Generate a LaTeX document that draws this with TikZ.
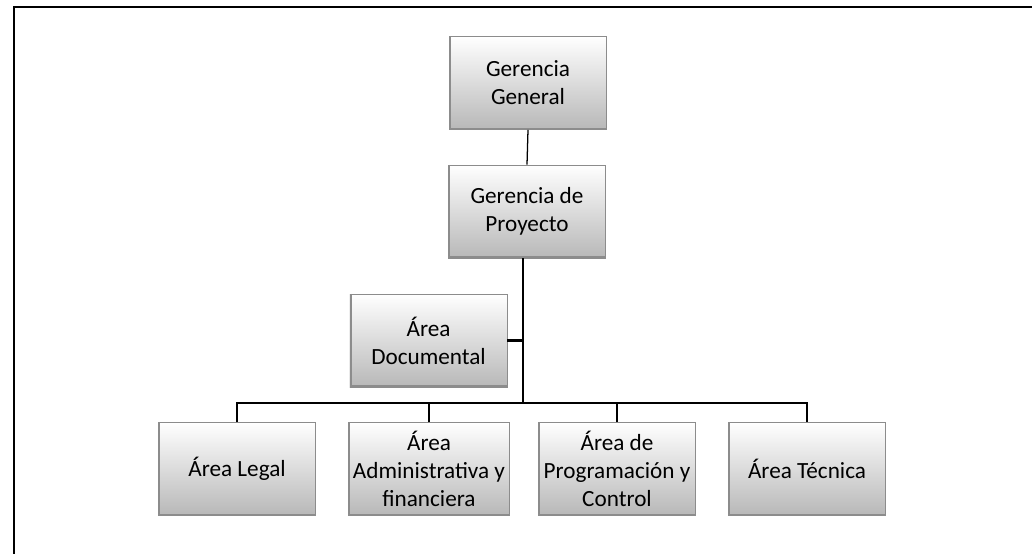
\documentclass[tikz,border=0pt]{standalone}
\usepackage{fontspec}
\setmainfont{Carlito}
\tikzset{
  unit/.style={rectangle, draw=black!45, line width=0.4pt,
    top color=white, bottom color=black!28,
    minimum width=3.93cm, minimum height=2.33cm, align=center,
    font=\fontsize{16.5}{20}\selectfont,
    path picture={\draw[line width=2.4pt]
      (path picture bounding box.north west) --
      (path picture bounding box.south west) --
      (path picture bounding box.south east);}},
  link/.style={line width=0.9pt},
  bus/.style={line width=1.6pt}
}
\begin{document}
\begin{tikzpicture}[x=0.025cm, y=-0.025cm]
  \useasboundingbox (0,0) rectangle (1032,554);
  % page frame
  \draw[line width=1.4pt] (1032,7) -- (14,7) -- (14,554);
  % boxes
  \node[unit] (gg) at (528,83) {Gerencia\\General};
  \node[unit] (gp) at (527,211.5) {Gerencia de\\Proyecto};
  \node[unit] (doc) at (428.5,340.5) {Área\\Documental};
  \node[unit] (legal) at (237,469) {Área Legal};
  \node[unit] (admin) at (429,469) {Área\\Administrativa y\\financiera};
  \node[unit] (prog) at (617,469) {Área de\\Programación y\\Control};
  \node[unit] (tec) at (807,469) {Área Técnica};
  \coordinate (split) at (523,403);
  % connectors
  \draw[link] (gg.south) -- (gp.north);
  \draw[link] (gp.south -| split) -- (split);
  \draw[bus] (doc.east) -- (doc.east -| split);
  \draw[bus] (legal.north) -- (legal.north |- split) -- (tec.north |- split) -- (tec.north);
  \draw[link] (admin.north) -- (admin.north |- split);
  \draw[bus] (prog.north) -- (prog.north |- split);
\end{tikzpicture}
\end{document}
